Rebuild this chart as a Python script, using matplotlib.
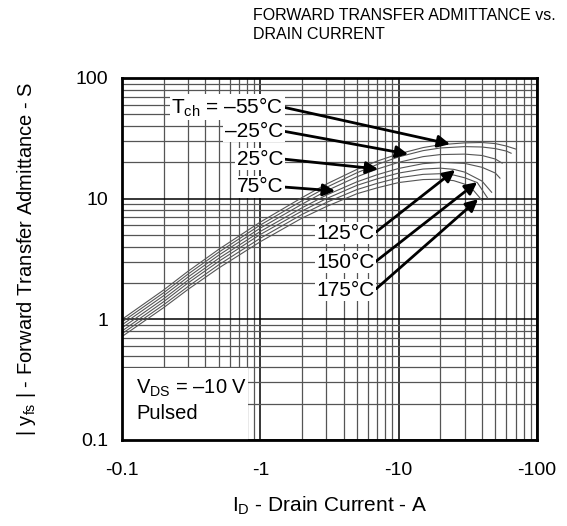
import matplotlib
matplotlib.use("Agg")
import matplotlib.pyplot as plt
from matplotlib.patches import Rectangle
from matplotlib.ticker import FixedLocator, FixedFormatter, NullFormatter

plt.rcParams['font.family'] = ['Liberation Sans', 'DejaVu Sans']
plt.rcParams['mathtext.fontset'] = 'custom'
plt.rcParams['mathtext.rm'] = 'Liberation Sans'
plt.rcParams['mathtext.it'] = 'Liberation Sans:italic'

# |ID| (A) and |yfs| (S)
id_m55 = [0.1, 0.2, 0.3, 0.5, 1, 2, 3, 5, 7, 10, 15, 20, 30, 40, 50, 60, 70]
yfs_m55 = [1.00, 1.75, 2.50, 3.80, 6.40, 10.2, 13.2, 17.5, 20.5, 23.5, 26.5, 28.0, 29.0, 29.2, 28.6, 27.3, 25.8]

id_m25 = [0.1, 0.2, 0.3, 0.5, 1, 2, 3, 5, 7, 10, 15, 20, 30, 40, 50, 60, 65]
yfs_m25 = [0.95, 1.66, 2.37, 3.60, 6.05, 9.6, 12.4, 16.4, 19.2, 22.2, 25.0, 26.3, 27.0, 26.8, 26.0, 24.8, 23.8]

id_25 = [0.1, 0.2, 0.3, 0.5, 1, 2, 3, 5, 7, 10, 15, 20, 30, 40, 50, 56]
yfs_25 = [0.90, 1.57, 2.24, 3.40, 5.70, 9.0, 11.6, 15.2, 17.6, 20.0, 22.3, 23.2, 23.4, 22.8, 21.3, 19.7]

id_75 = [0.1, 0.2, 0.3, 0.5, 1, 2, 3, 5, 7, 10, 15, 20, 30, 40, 50, 54]
yfs_75 = [0.85, 1.48, 2.11, 3.20, 5.35, 8.4, 10.7, 13.8, 15.8, 17.8, 19.5, 20.0, 19.6, 18.2, 16.3, 14.8]

id_125 = [0.1, 0.2, 0.3, 0.5, 1, 2, 3, 5, 7, 10, 15, 20, 25, 30, 40, 47]
yfs_125 = [0.80, 1.40, 2.00, 3.02, 5.05, 7.9, 10.0, 12.9, 14.6, 16.3, 17.6, 17.9, 17.5, 16.6, 14.0, 11.3]

id_150 = [0.1, 0.2, 0.3, 0.5, 1, 2, 3, 5, 7, 10, 15, 20, 25, 30, 37, 44]
yfs_150 = [0.76, 1.32, 1.87, 2.83, 4.70, 7.4, 9.3, 11.9, 13.4, 14.9, 15.9, 16.1, 15.7, 14.9, 13.6, 10.1]

id_175 = [0.1, 0.2, 0.3, 0.5, 1, 2, 3, 5, 7, 10, 15, 20, 25, 30, 35, 40]
yfs_175 = [0.72, 1.25, 1.77, 2.66, 4.40, 6.9, 8.6, 11.0, 12.3, 13.6, 14.4, 14.5, 14.1, 13.2, 11.6, 9.7]

x_ticks = [0.1, 1, 10, 100]
x_ticklabels = ["-0.1", "-1", "-10", "-100"]
y_ticks = [0.1, 1, 10, 100]
y_ticklabels = ["0.1", "1", "10", "100"]

fig = plt.figure(figsize=(5.67, 5.26), dpi=100)
ax = fig.add_axes([122/567, 86/526, 415/567, 362/526])
ax.set_xscale('log')
ax.set_yscale('log')
ax.set_xlim(0.1, 100)
ax.set_ylim(0.1, 100)
ax.set_axisbelow(True)

curves = [(id_m55, yfs_m55), (id_m25, yfs_m25), (id_25, yfs_25), (id_75, yfs_75),
          (id_125, yfs_125), (id_150, yfs_150), (id_175, yfs_175)]
for xs, ys in curves:
    ax.plot(xs, ys, color='#555555', lw=0.8, zorder=4)

ax.xaxis.set_major_locator(FixedLocator(x_ticks))
ax.xaxis.set_major_formatter(FixedFormatter(x_ticklabels))
ax.yaxis.set_major_locator(FixedLocator(y_ticks))
ax.yaxis.set_major_formatter(FixedFormatter(y_ticklabels))
ax.xaxis.set_minor_formatter(NullFormatter())
ax.yaxis.set_minor_formatter(NullFormatter())
ax.grid(True, which='major', color='black', lw=1.1)
ax.grid(True, which='minor', color='#555555', lw=0.9)
ax.tick_params(which='both', length=0, labelsize=14)
ax.tick_params(axis='x', pad=16)
ax.tick_params(axis='y', pad=10)
for s in ax.spines.values():
    s.set_linewidth(2.0)
    s.set_zorder(6)

ax.set_xlabel("I$_{\\rm D}$ - Drain Current - A", fontsize=15, labelpad=11)
ax.set_ylabel("| y$_{\\rm fs}$ | - Forward Transfer Admittance - S", fontsize=14.5, labelpad=27)

fig.text(253/567, 1 - 8/526, "FORWARD TRANSFER ADMITTANCE vs.\nDRAIN CURRENT",
         fontsize=11.5, ha='left', va='top', linespacing=1.3)

box = dict(facecolor='white', edgecolor='none', pad=1.0)
arr = dict(arrowstyle='-|>', color='black', lw=2.0, mutation_scale=18,
           shrinkA=0, shrinkB=0, relpos=(1, 0.5))

# left-side labels
left_labels = [("T$_{\\rm ch}$ = \u201355\u00b0C", 57.4, (23.5, 28.3)),
               ("\u201325\u00b0C", 36.3, (11.7, 23.4)),
               ("25\u00b0C", 21.3, (7.1, 17.6)),
               ("75\u00b0C", 12.5, (3.47, 11.6))]
for txt, ty, tip in left_labels:
    ax.annotate(txt, xy=tip, xytext=(1.46, ty), ha='right', va='center',
                fontsize=15, bbox=box, arrowprops=arr, zorder=5)

right_labels = [("125\u00b0C", 5.19, (25.6, 17.3)),
                ("150\u00b0C", 2.98, (36.9, 13.7)),
                ("175\u00b0C", 1.75, (37.5, 9.9))]
for txt, ty, tip in right_labels:
    ax.annotate(txt, xy=tip, xytext=(2.55, ty), ha='left', va='center',
                fontsize=15, bbox=box, arrowprops=arr, zorder=5)

ax.add_patch(Rectangle((0, 0), 126/415, 72/362, transform=ax.transAxes,
                       facecolor='white', edgecolor='none', zorder=3))
ax.text(0.127, 0.27, "V$_{\\rm DS}$ = \u201310 V", fontsize=14.5, ha='left', va='center', zorder=5)
ax.text(0.127, 0.167, "Pulsed", fontsize=14.5, ha='left', va='center', zorder=5)

fig.savefig("out.png", dpi=100)
